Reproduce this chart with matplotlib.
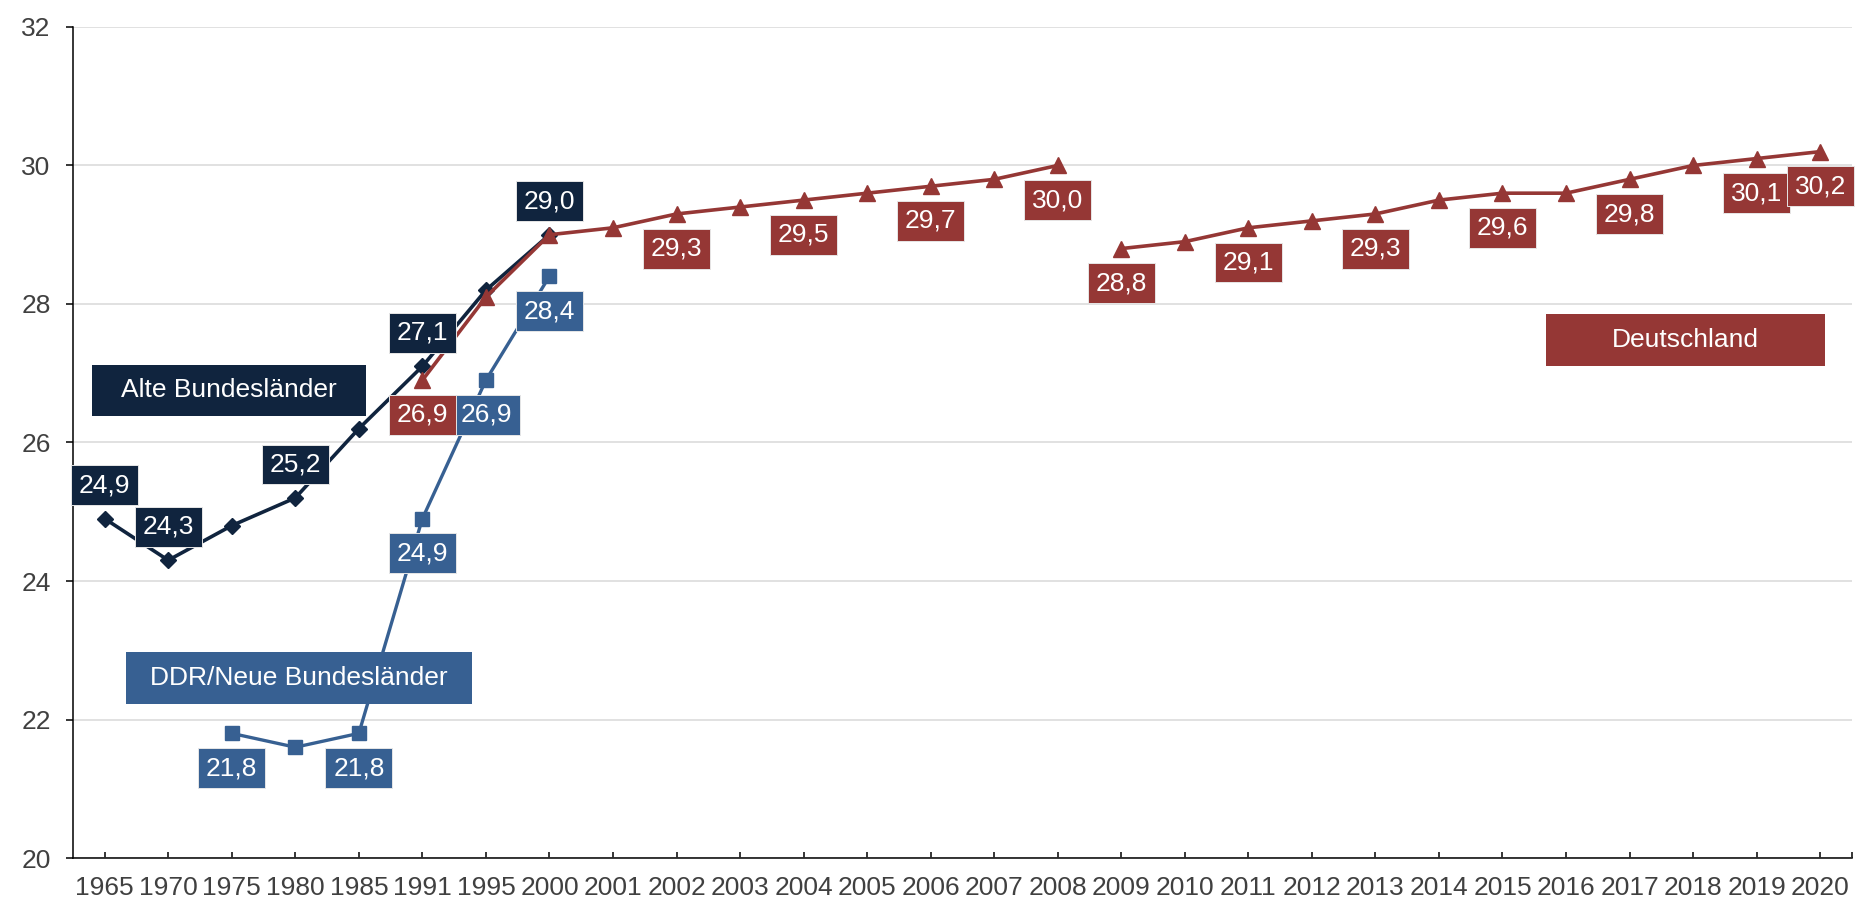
import matplotlib
matplotlib.use("Agg")
import matplotlib.pyplot as plt
from matplotlib.patches import Rectangle
from matplotlib.path import Path

plt.rcParams["font.family"] = ["Liberation Sans", "DejaVu Sans"]

# Kategorien der x-Achse (Jahre, nicht äquidistant)
years = ["1965", "1970", "1975", "1980", "1985", "1991", "1995", "2000",
         "2001", "2002", "2003", "2004", "2005", "2006", "2007", "2008",
         "2009", "2010", "2011", "2012", "2013", "2014", "2015", "2016",
         "2017", "2018", "2019", "2020"]

alte_years = ["1965", "1970", "1975", "1980", "1985", "1991", "1995", "2000"]
alte_values = [24.9, 24.3, 24.8, 25.2, 26.2, 27.1, 28.2, 29.0]
alte_labeled = ["1965", "1970", "1980", "1991", "2000"]

neue_years = ["1975", "1980", "1985", "1991", "1995", "2000"]
neue_values = [21.8, 21.6, 21.8, 24.9, 26.9, 28.4]
neue_labeled = ["1975", "1985", "1991", "1995", "2000"]

# Deutschland: Bruch zwischen 2008 und 2009
de_years_a = ["1991", "1995", "2000", "2001", "2002", "2003", "2004",
              "2005", "2006", "2007", "2008"]
de_values_a = [26.9, 28.1, 29.0, 29.1, 29.3, 29.4, 29.5, 29.6, 29.7, 29.8, 30.0]
de_years_b = ["2009", "2010", "2011", "2012", "2013", "2014", "2015",
              "2016", "2017", "2018", "2019", "2020"]
de_values_b = [28.8, 28.9, 29.1, 29.2, 29.3, 29.5, 29.6, 29.6, 29.8, 30.0, 30.1, 30.2]
de_labeled = ["1991", "2002", "2004", "2006", "2008", "2009", "2011",
              "2013", "2015", "2017", "2019", "2020"]

NAVY = "#10243e"
BLUE = "#376092"
RED = "#953735"
TEXT = "#404040"
FS = 19


def value_box(x0, y0, width, height, mutation_size):
    # rectangle with more padding left/right than top/bottom
    px = 0.30 * mutation_size
    py = 0.30 * mutation_size
    xa, xb = x0 - px, x0 + width + px
    ya, yb = y0 - py, y0 + height + py
    return Path([(xa, ya), (xb, ya), (xb, yb), (xa, yb), (xa, ya)], closed=True)


def xpos(labels):
    return [years.index(y) for y in labels]


def add_labels(ax, yrs, vals, labeled, color, dy):
    for y, v in zip(yrs, vals):
        if y not in labeled:
            continue
        ax.annotate(f"{v:.1f}".replace(".", ","), xy=(years.index(y), v),
                    xytext=(0, dy), textcoords="offset points",
                    ha="center", va="center", color="white", fontsize=FS,
                    bbox=dict(boxstyle=value_box, fc=color, ec="#e6e6e6", lw=0.7),
                    zorder=6)


fig = plt.figure(figsize=(18.65, 9.05), dpi=100)
ax = fig.add_axes([0.0391, 0.0519, 0.9539, 0.9183])

ax.plot(xpos(alte_years), alte_values, color=NAVY, lw=2.6, marker="D",
        ms=8, zorder=3)
ax.plot(xpos(neue_years), neue_values, color=BLUE, lw=2.4, marker="s",
        ms=10, zorder=3)
ax.plot(xpos(de_years_a), de_values_a, color=RED, lw=2.6, marker="^",
        ms=11, zorder=4)
ax.plot(xpos(de_years_b), de_values_b, color=RED, lw=2.6, marker="^",
        ms=11, zorder=4)

add_labels(ax, alte_years, alte_values, alte_labeled, NAVY, 24)
add_labels(ax, neue_years, neue_values, neue_labeled, BLUE, -25)
add_labels(ax, de_years_a, de_values_a, de_labeled, RED, -25)
add_labels(ax, de_years_b, de_values_b, de_labeled, RED, -25)

# Serienbeschriftungen als Kästen
for (x0, y0, w, h), name, color in [
        ((0.0107, 0.532, 0.154, 0.0614), "Alte Bundesländer", NAVY),
        ((0.0298, 0.1853, 0.1945, 0.0626), "DDR/Neue Bundesländer", BLUE),
        ((0.828, 0.592, 0.1568, 0.0626), "Deutschland", RED)]:
    ax.add_patch(Rectangle((x0, y0), w, h, transform=ax.transAxes,
                           fc=color, ec="none", zorder=7))
    ax.text(x0 + w / 2, y0 + h / 2, name, transform=ax.transAxes,
            ha="center", va="center", color="white", fontsize=FS, zorder=8)

ax.set_xlim(-0.5, 27.5)
ax.set_ylim(20, 32)
ax.set_yticks(range(20, 33, 2))
ax.set_xticks(range(len(years)))
ax.set_xticklabels(years)
ax.set_xticks([27.5], minor=True)

ax.grid(axis="y", color="#d9d9d9", lw=1.1)
ax.set_axisbelow(True)
for side in ["top", "right"]:
    ax.spines[side].set_visible(False)
for side in ["left", "bottom"]:
    ax.spines[side].set_color("black")
    ax.spines[side].set_linewidth(1.1)

ax.tick_params(axis="y", direction="out", length=5, width=1.1, pad=11,
               labelsize=FS, labelcolor=TEXT)
ax.tick_params(axis="x", which="both", direction="in", length=4, width=1.1,
               pad=13, labelsize=FS, labelcolor=TEXT)

fig.savefig("out.png", dpi=100, facecolor="white")
